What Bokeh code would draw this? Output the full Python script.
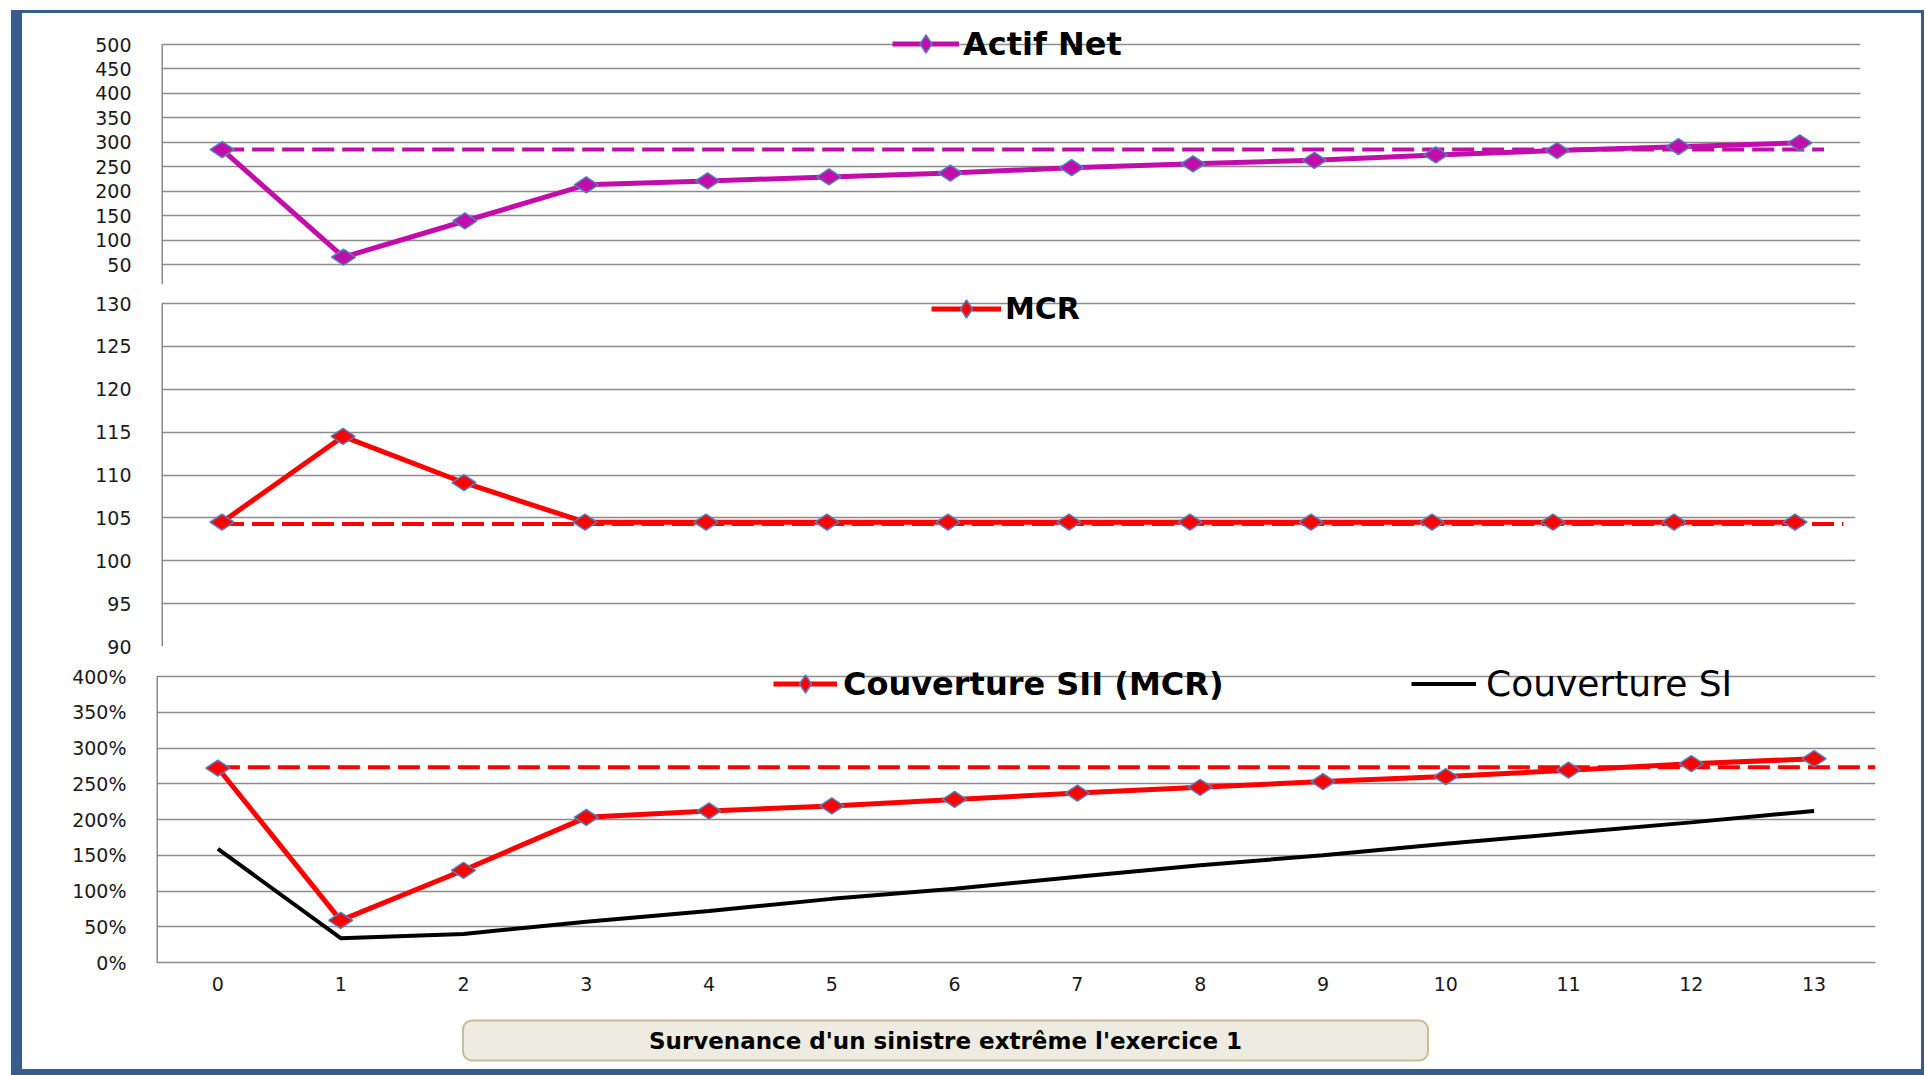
import math
from bokeh.plotting import figure
from bokeh.layouts import column, row
from bokeh.models import (Range1d, Legend, LegendItem, Label, Div, Spacer,
                          PrintfTickFormatter, FixedTicker)
from bokeh.embed import file_html
from bokeh.resources import INLINE

# ---------------- data ----------------
EXERCICES = list(range(14))
X_TICK_LABELS = [str(i) for i in EXERCICES]
X_RANGE = (-0.5, 13.5)

ACTIF_NET = [285, 65, 139, 213, 221, 229, 237, 248, 256, 263, 274, 283, 291, 299]
ACTIF_NET_REF = 285
ACTIF_NET_REF_SPAN = [0, 13.2]
ACTIF_TICKS = [50, 100, 150, 200, 250, 300, 350, 400, 450, 500]

MCR = [104.5, 114.5, 109.1, 104.5, 104.5, 104.5, 104.5, 104.5, 104.5, 104.5, 104.5, 104.5, 104.5, 104.5]
MCR_REF = 104.3
MCR_REF_SPAN = [0, 13.4]
MCR_TICKS = [90, 95, 100, 105, 110, 115, 120, 125, 130]

COUV_SII = [272, 59, 129, 203, 212, 219, 228, 237, 245, 253, 260, 269, 278, 285]
COUV_SI = [159, 34, 40, 57, 72, 89, 103, 120, 136, 150, 166, 181, 196, 212]
COUV_REF = 273
COUV_REF_SPAN = [0, 13.5]
COUV_TICKS = [0, 50, 100, 150, 200, 250, 300, 350, 400]

CAPTION = "Survenance d'un sinistre extrême l'exercice 1"

# ---------------- style ----------------
MAGENTA = "#C20DAA"
RED = "#FF0000"
EDGE = "#4F81BD"
GRID = "#8C8C8C"
FRAME_BLUE = "#385D8A"
FONT = "DejaVu Sans"
INNER_W = 1899


def make_fig(h, top, bottom, left, right, y0, y1, ticks, show_x=False):
    p = figure(width=INNER_W, height=h, x_range=Range1d(*X_RANGE), y_range=Range1d(y0, y1),
               output_backend="svg", toolbar_location=None,
               x_axis_location="below" if show_x else None,
               min_border_top=top, min_border_bottom=bottom,
               min_border_left=left, min_border_right=right)
    p.frame_align = False
    p.outline_line_color = None
    p.background_fill_color = "white"
    p.border_fill_color = "white"
    p.xgrid.visible = False
    p.ygrid.grid_line_color = GRID
    p.ygrid.grid_line_width = 1.5
    p.yaxis.ticker = FixedTicker(ticks=ticks)
    p.yaxis.major_tick_line_color = None
    p.yaxis.minor_tick_line_color = None
    p.yaxis.major_tick_out = 0
    p.yaxis.major_tick_in = 0
    p.yaxis.axis_line_color = None
    p.yaxis.major_label_standoff = 30
    p.yaxis.major_label_text_font = FONT
    p.yaxis.major_label_text_font_size = "19px"
    p.yaxis.major_label_text_color = "#1a1a1a"
    # vertical axis line limited to the plotting area (legend sits above it)
    p.segment(x0=[X_RANGE[0]], y0=[y0], x1=[X_RANGE[0]], y1=[ticks[-1]],
              line_color=GRID, line_width=3)
    if show_x:
        p.xaxis.ticker = FixedTicker(ticks=EXERCICES)
        p.xaxis.major_label_overrides = {i: s for i, s in zip(EXERCICES, X_TICK_LABELS)}
        p.xaxis.major_tick_line_color = None
        p.xaxis.minor_tick_line_color = None
        p.xaxis.major_tick_out = 0
        p.xaxis.major_tick_in = 0
        p.xaxis.axis_line_color = GRID
        p.xaxis.axis_line_width = 1.5
        p.xaxis.major_label_standoff = 14
        p.xaxis.major_label_text_font = FONT
        p.xaxis.major_label_text_font_size = "19px"
        p.xaxis.major_label_text_color = "#1a1a1a"
    return p


def add_legend(p, label, renderers, x, y, glyph_w, standoff, bold=True, size="32px"):
    lg = Legend(items=[LegendItem(label=label, renderers=renderers)], location=(x, y),
                orientation="horizontal", padding=0, margin=0, spacing=0,
                glyph_width=glyph_w, glyph_height=45, label_standoff=standoff,
                label_text_font=FONT, label_text_font_size=size,
                label_text_font_style="bold" if bold else "normal",
                label_text_color="black",
                border_line_color=None, background_fill_alpha=0)
    p.add_layout(lg)


# ---------------- chart 1 : Actif Net ----------------
p1 = make_fig(272, 7, 1, 139, 61, 9.1, 549.1, ACTIF_TICKS)
a_line = p1.line(EXERCICES, ACTIF_NET, line_color=MAGENTA, line_width=5)
p1.line(ACTIF_NET_REF_SPAN, [ACTIF_NET_REF] * len(ACTIF_NET_REF_SPAN), line_color=MAGENTA,
        line_width=4, line_dash="22 8")
a_pts = p1.scatter(EXERCICES, ACTIF_NET, marker="diamond", size=24, angle=math.pi / 2,
                   fill_color=MAGENTA, line_color=EDGE, line_width=1.5)
add_legend(p1, "Actif Net", [a_line, a_pts], 731, 218, 67, 4)

# ---------------- chart 2 : MCR ----------------
p2 = make_fig(371, 0, 10, 139, 66, 90, 132.1, MCR_TICKS)
m_line = p2.line(EXERCICES, MCR, line_color=RED, line_width=5)
p2.line(MCR_REF_SPAN, [MCR_REF] * len(MCR_REF_SPAN), line_color=RED, line_width=4, line_dash="22 8")
m_pts = p2.scatter(EXERCICES, MCR, marker="diamond", size=24, angle=math.pi / 2,
                   fill_color=RED, line_color=EDGE, line_width=1.5)
add_legend(p2, "MCR", [m_line, m_pts], 770, 315, 70, 4, size="30px")

# ---------------- chart 3 : Couverture ----------------
p3 = make_fig(350, 4, 44, 134, 46, 0, 422.4, COUV_TICKS, show_x=True)
p3.yaxis.formatter = PrintfTickFormatter(format="%d%%")
si_line = p3.line(EXERCICES, COUV_SI, line_color="black", line_width=4)
sii_line = p3.line(EXERCICES, COUV_SII, line_color=RED, line_width=5)
p3.line(COUV_REF_SPAN, [COUV_REF] * len(COUV_REF_SPAN), line_color=RED, line_width=4, line_dash="22 8")
sii_pts = p3.scatter(EXERCICES, COUV_SII, marker="diamond", size=24, angle=math.pi / 2,
                     fill_color=RED, line_color=EDGE, line_width=1.5)
add_legend(p3, "Couverture SII (MCR)", [sii_line, sii_pts], 617, 256, 64, 6)
add_legend(p3, "Couverture SI", [si_line], 1255, 256, 65, 10, bold=False, size="36px")

# ---------------- caption box ----------------
CAP_H = 63
pc = figure(width=INNER_W, height=CAP_H, x_range=Range1d(0, INNER_W), y_range=Range1d(0, CAP_H),
            output_backend="svg", toolbar_location=None, x_axis_location=None, y_axis_location=None,
            min_border=0)
pc.frame_align = False
pc.outline_line_color = None
pc.grid.visible = False
pc.background_fill_color = "white"
pc.border_fill_color = "white"
caption = Label(x=923, y=29, text=CAPTION, text_align="center", text_baseline="middle",
                text_font=FONT, text_font_size="23px", text_font_style="bold", text_color="black",
                background_fill_color="#EEECE1", border_line_color="#C4BD97", border_line_width=2,
                padding=(186, 7), border_radius=9)
pc.add_layout(caption)


# ---------------- page frame ----------------
def blue(w, h):
    return Div(width=w, height=h, margin=0, styles={"background-color": FRAME_BLUE})


left_strip = row(Spacer(width=11, height=1075),
                 column(Spacer(width=11, height=10), blue(11, 1065), spacing=0), spacing=0)
mid_col = column(Spacer(width=INNER_W, height=10), blue(INNER_W, 3), p1, p2, p3, pc,
                 blue(INNER_W, 6), spacing=0)
right_col = column(Spacer(width=3, height=10), blue(3, 1065), spacing=0)
layout = row(left_strip, mid_col, right_col, Spacer(width=1, height=1075), spacing=0)

open("out.html", "w").write(file_html(layout, INLINE))
